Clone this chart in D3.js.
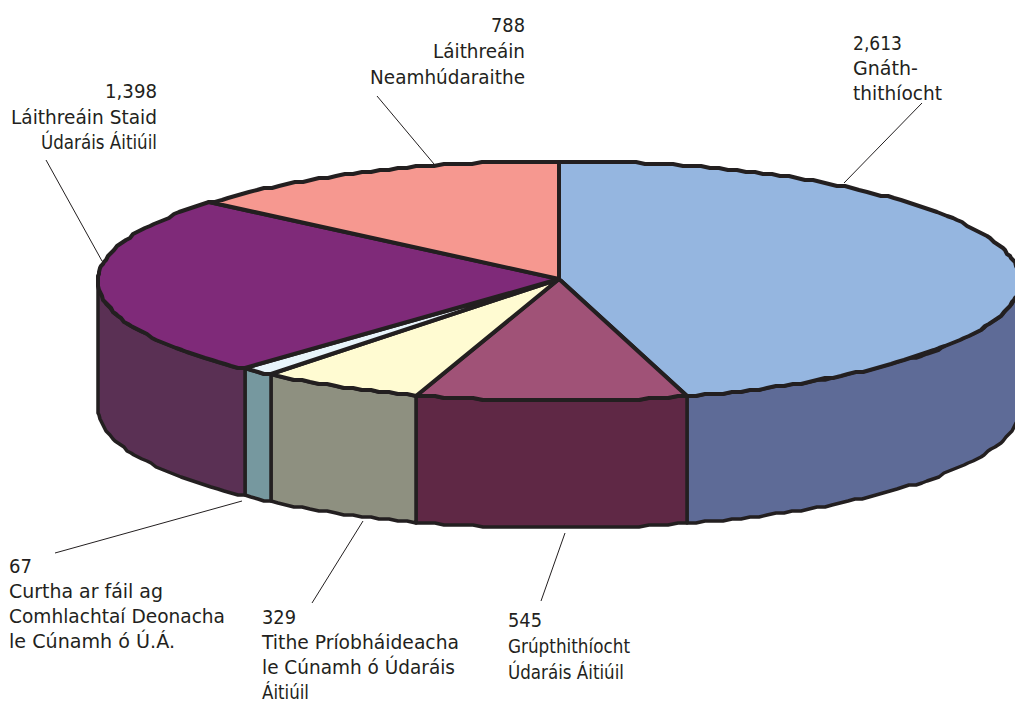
<!DOCTYPE html>
<html lang="ga">
<head>
  <meta charset="UTF-8">
  <title>Pie chart</title>
  <script src="https://d3js.org/d3.v7.min.js"></script>
  <style>
    html, body { margin: 0; background: #fff; overflow: hidden; }
    svg { display: block; }
    text { font-family: "DejaVu Sans", sans-serif; font-size: 19px; fill: #231f20; }
  </style>
</head>
<body>
<div id="chart"></div>
<script>
  // data, clockwise from 12 o'clock
  const values = [2613, 545, 329, 67, 1398, 788];
  const valueLabels = ["2,613", "545", "329", "67", "1,398", "788"];
  const names = [
    ["Gnáth-", "thithíocht"],
    ["Grúpthithíocht", "Údaráis Áitiúil"],
    ["Tithe Príobháideacha", "le Cúnamh ó Údaráis", "Áitiúil"],
    ["Curtha ar fáil ag", "Comhlachtaí Deonacha", "le Cúnamh ó Ú.Á."],
    ["Láithreáin Staid", "Údaráis Áitiúil"],
    ["Láithreáin", "Neamhúdaraithe"]
  ];
  const topColors = ["#95b6e0", "#a05277", "#fffbd2", "#e8f4fb", "#7f2a79", "#f69890"];
  const sideColors = ["#5e6b97", "#5f2845", "#8e9080", "#76989f", "#5a3054", "#8a4f4a"];

  // label layout: anchor, x, first baseline, line step, leader line, widths per line
  const labelLayout = [
    {anchor: "start", x: 853, y: 50, dy: 25, leader: [844, 183, 922, 103], widths: [49, 65, 89]},
    {anchor: "start", x: 508, y: 627, dy: 26, leader: [565, 533, 541, 601], widths: [34, 122, 116]},
    {anchor: "start", x: 262, y: 624, dy: 25, leader: [363, 521, 312, 603], widths: [34, 197, 193, 47]},
    {anchor: "start", x: 9, y: 573, dy: 25, leader: [242, 501, 55, 553], widths: [23, 154, 216, 166]},
    {anchor: "end", x: 157, y: 98, dy: 25.5, leader: [102, 261, 46, 160], widths: [52, 146, 116]},
    {anchor: "end", x: 525, y: 32, dy: 26, leader: [434, 164, 377, 96], widths: [34, 92, 155]}
  ];

  const width = 1015, height = 704;
  const cx = 559, cy = 281, rx = 461, ry = 120, depth = 127;
  const stepDeg = 1.2, grain = 2;

  const x = d3.scaleLinear().domain([-1, 1]).range([cx - rx, cx + rx]);
  const y = d3.scaleLinear().domain([-1, 1]).range([cy - ry, cy + ry]);

  const svg = d3.select("#chart").append("svg")
    .attr("width", width)
    .attr("height", height);

  const pie = d3.pie().sort(null).value(d => d);
  const slices = pie(values);

  // the rim of the source artwork is a coarse polyline, so snap y to a grid
  const snap = v => Math.round(v / grain) * grain;

  function rimPoints(a0, a1, offset) {
    const n = Math.max(1, Math.round((a1 - a0) * 180 / Math.PI / stepDeg));
    return d3.range(n + 1).map(i => {
      const a = a0 + (a1 - a0) * i / n;
      return [Math.round(x(Math.sin(a))), snap(y(-Math.cos(a))) + offset];
    });
  }

  const line = d3.line();

  // walls, only the front half of the disc shows
  const front0 = Math.PI / 2, front1 = Math.PI * 3 / 2;
  svg.append("g").selectAll("path")
    .data(slices.filter(d => d.endAngle > front0 && d.startAngle < front1))
    .enter()
    .append("path")
    .attr("d", d => {
      const a0 = Math.max(d.startAngle, front0), a1 = Math.min(d.endAngle, front1);
      const upper = rimPoints(a0, a1, 0);
      const lower = rimPoints(a0, a1, depth).reverse();
      return line(upper.concat(lower)) + "Z";
    })
    .attr("fill", d => sideColors[d.index])
    .attr("stroke", "#231f20")
    .attr("stroke-width", 3.5)
    .attr("stroke-linejoin", "round");

  // top face
  svg.append("g").selectAll("path")
    .data(slices)
    .enter()
    .append("path")
    .attr("d", d => line([[cx, cy - 2]].concat(rimPoints(d.startAngle, d.endAngle, 0))) + "Z")
    .attr("fill", d => topColors[d.index])
    .attr("stroke", "#231f20")
    .attr("stroke-width", 4)
    .attr("stroke-linejoin", "round");

  // leader lines
  svg.append("g").selectAll("line")
    .data(labelLayout)
    .enter()
    .append("line")
    .attr("x1", d => d.leader[0])
    .attr("y1", d => d.leader[1])
    .attr("x2", d => d.leader[2])
    .attr("y2", d => d.leader[3])
    .attr("stroke", "#231f20")
    .attr("stroke-width", 1);

  // labels: value on the first line, then the name
  const labels = svg.append("g").selectAll("text")
    .data(labelLayout.map((l, i) => ({l: l, lines: [valueLabels[i]].concat(names[i])})))
    .enter()
    .append("text")
    .attr("text-anchor", d => d.l.anchor);

  labels.selectAll("tspan")
    .data(d => d.lines.map((t, i) => ({t: t, i: i, l: d.l})))
    .enter()
    .append("tspan")
    .attr("x", d => d.l.x)
    .attr("y", d => d.l.y + d.i * d.l.dy)
    .attr("textLength", d => d.l.widths[d.i])
    .attr("lengthAdjust", "spacingAndGlyphs")
    .text(d => d.t);
</script>
</body>
</html>
